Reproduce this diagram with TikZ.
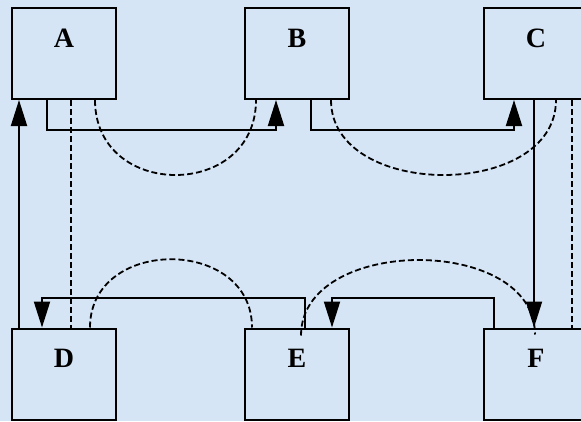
\documentclass[tikz,border=0pt]{standalone}
\usepackage{fontspec}
\setmainfont{Liberation Serif}
\usetikzlibrary{arrows.meta}
\definecolor{bgblue}{RGB}{214,229,245}
\begin{document}
\begin{tikzpicture}[x=1pt,y=-1pt,
  box/.style={draw, line width=2pt, minimum width=104pt, minimum height=91pt, inner sep=0pt,
    font=\bfseries\fontsize{28}{28}\selectfont, text height=20pt, text depth=33pt},
  conn/.style={line width=2pt, -{Triangle[length=26pt,width=16pt]}},
  dline/.style={line width=1.8pt, dash pattern=on 6pt off 3pt}
]
\fill[bgblue] (0,0) rectangle (581,421);
\useasboundingbox (0,0) rectangle (581,421);
\clip (0,0) rectangle (581,421);

\node[box] (A) at (64,53.5) {A};
\node[box] (B) at (297,53.5) {B};
\node[box] (C) at (536,53.5) {C};
\node[box] (D) at (64,374) {D};
\node[box] (E) at (297,374) {E};
\node[box] (F) at (536,374) {F};

\coordinate (topY) at (0,130);
\coordinate (botY) at (0,298);

% D -> A
\draw[conn] ([xshift=8pt]D.north west) -- ([xshift=8pt]A.south west);
% A -> B
\draw[conn] ([xshift=36pt]A.south west) -- ([xshift=36pt]A.south west |- topY) -| ([xshift=32pt]B.south west);
% A dashed down to D
\draw[dline] ([xshift=60pt]A.south west) -- ([xshift=60pt]D.north west);
% A - B dashed arc
\draw[dline] ([xshift=84pt]A.south west) .. controls +(0,100) and +(0,100) .. ([xshift=12pt]B.south west);
% B -> C
\draw[conn] ([xshift=67pt]B.south west) -- ([xshift=67pt]B.south west |- topY) -| ([xshift=31pt]C.south west);
% B - C dashed arc
\draw[dline] ([xshift=87pt]B.south west) .. controls +(0,100) and +(0,100) .. ([xshift=73pt]C.south west);
% C -> F
\draw[conn] ([xshift=51pt]C.south west) -- ([xshift=51pt]F.north west);
% C dashed down to F
\draw[dline] ([xshift=89pt]C.south west) -- ([xshift=89pt]F.north west);
% E -> D
\draw[conn] ([xshift=61pt]E.north west) -- ([xshift=61pt]E.north west |- botY) -| ([xshift=31pt]D.north west);
% D - E dashed arc
\draw[dline] ([xshift=79pt]D.north west) .. controls +(0,-91) and +(0,-91) .. ([xshift=8pt]E.north west);
% F -> E
\draw[conn] ([xshift=11pt]F.north west) -- ([xshift=11pt]F.north west |- botY) -| ([xshift=88pt]E.north west);
% E - F dashed arc
\draw[dline] ([xshift=57pt,yshift=-8pt]E.north west) .. controls +(0,-100) and +(0,-100) .. ([xshift=52pt,yshift=-7pt]F.north west);
\end{tikzpicture}
\end{document}
